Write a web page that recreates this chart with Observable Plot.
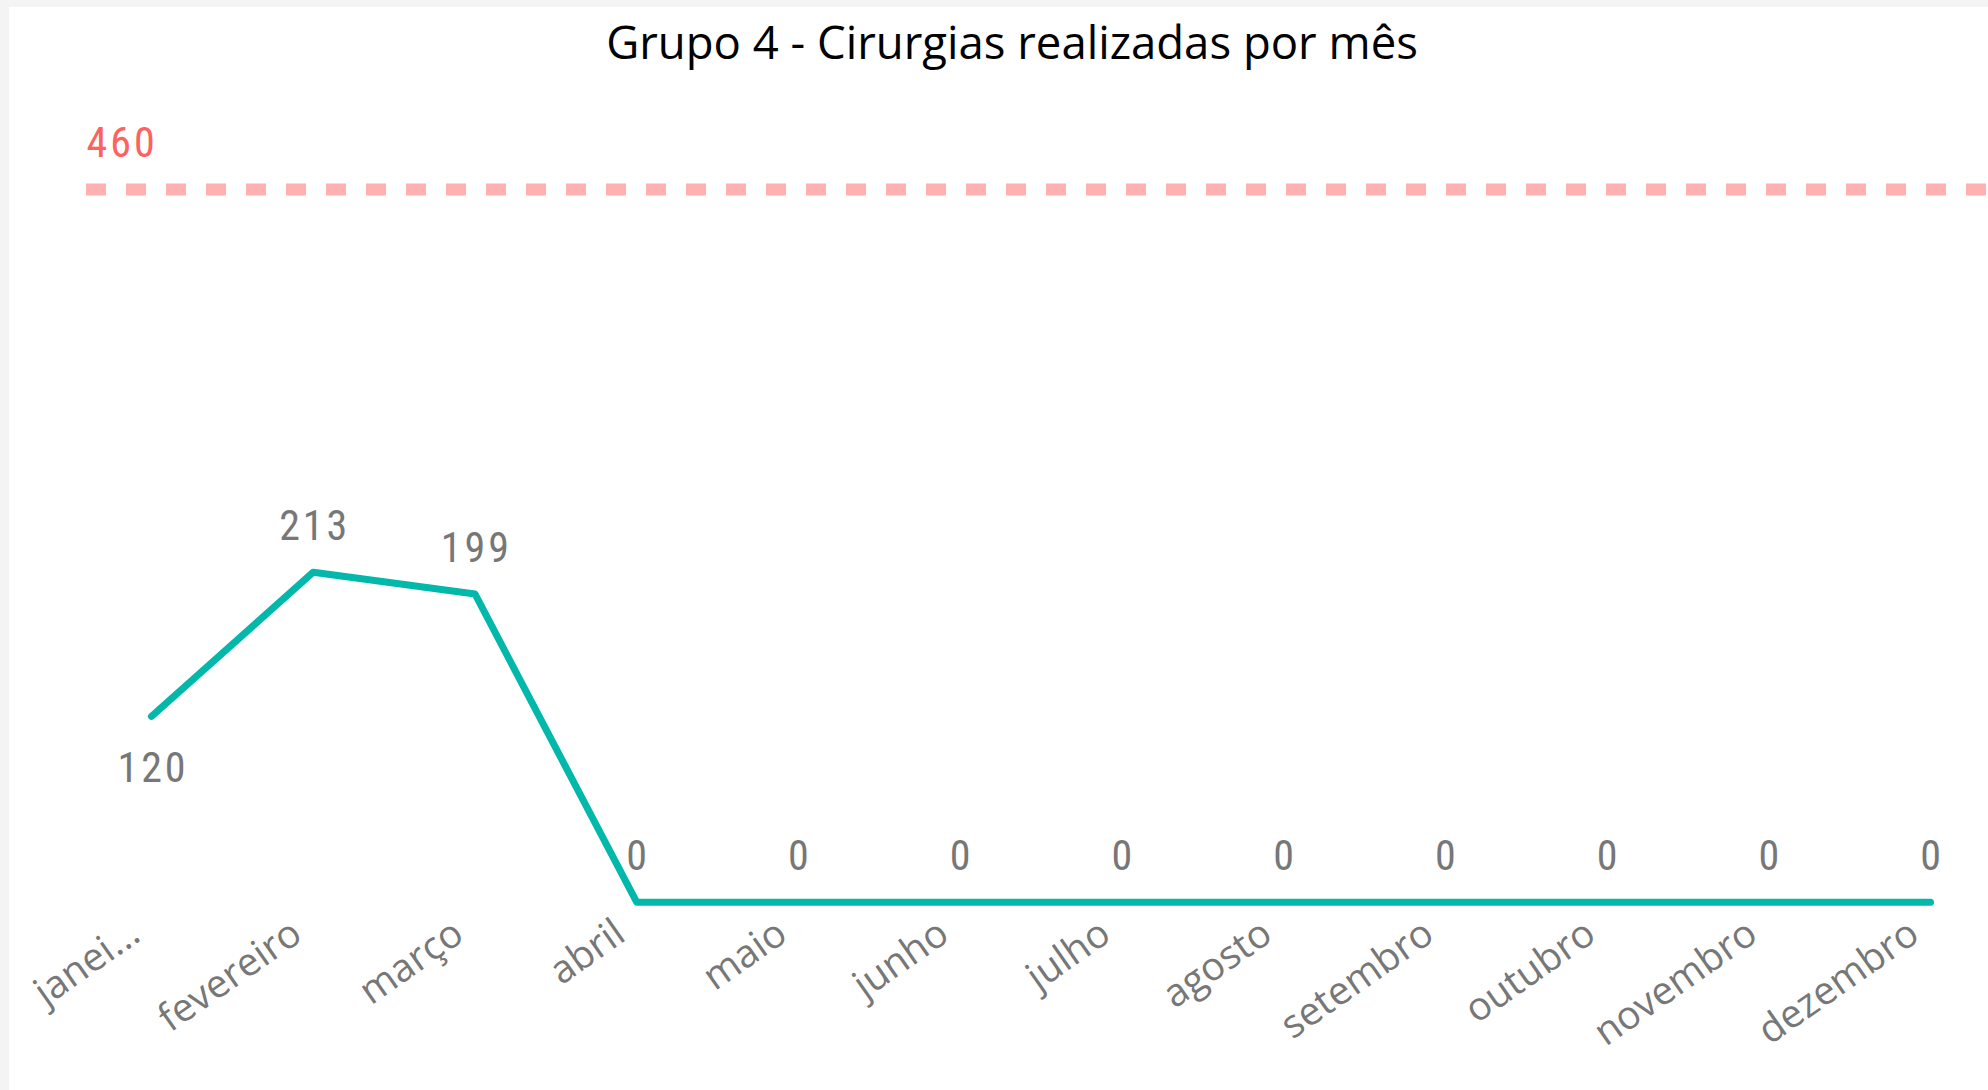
<!DOCTYPE html>
<html><head><meta charset="utf-8">
<script src="https://cdn.jsdelivr.net/npm/d3@7"></script>
<script src="https://cdn.jsdelivr.net/npm/@observablehq/plot@0.6"></script>
<style>
html,body{margin:0;padding:0;background:#f4f4f4;width:1988px;height:1090px;overflow:hidden;}
#card{position:absolute;left:9px;top:7px;right:0;bottom:0;background:#fff;}
#title{position:absolute;left:18px;top:19px;width:1988px;text-align:center;font-family:"Open Sans",sans-serif;font-size:45.5px;line-height:1;color:#000;white-space:nowrap;}
#chart{position:absolute;left:0;top:80px;}
.numlabel text{letter-spacing:3px;}
</style></head><body>
<div id="card"></div>
<div id="title">Grupo 4 - Cirurgias realizadas por mês</div>
<div id="chart"></div>
<script>
const months = ["janeiro","fevereiro","março","abril","maio","junho","julho","agosto","setembro","outubro","novembro","dezembro"];
const tickLabels = ["janei...","fevereiro","março","abril","maio","junho","julho","agosto","setembro","outubro","novembro","dezembro"];
const cirurgias = [120,213,199,0,0,0,0,0,0,0,0,0];
const meta = [460];
const labelsBelow = ["janeiro"];

const data = months.map((m, i) => ({mes: m, valor: cirurgias[i]}));
const condensed = '"Liberation Sans Narrow","Roboto Condensed","DejaVu Sans Condensed",Roboto,sans-serif';

const chart = Plot.plot({
  width: 1988,
  height: 1010,
  marginLeft: 86,
  marginRight: 0,
  marginTop: 109.1,
  marginBottom: 188.3,
  style: {background: "transparent", overflow: "visible"},
  x: {type: "point", domain: months, range: [151, 1930], padding: 0, round: false},
  y: {domain: [0, 460], axis: null},
  marks: [
    Plot.ruleY(meta, {stroke: "#ffb0b0", strokeWidth: 12, strokeDasharray: "20,20"}),
    Plot.text(meta, {y: d => d, frameAnchor: "left", text: d => String(d), textAnchor: "start", lineAnchor: "bottom", dy: -33, fill: "#fd625e", fontSize: 42, fontFamily: condensed, className: "numlabel"}),
    Plot.line(data, {x: "mes", y: "valor", stroke: "#01b8aa", strokeWidth: 7, strokeLinecap: "round", strokeLinejoin: "round"}),
    Plot.text(data.filter(d => !labelsBelow.includes(d.mes)), {x: "mes", y: "valor", text: d => String(d.valor), lineAnchor: "bottom", dy: -32, dx: 1.5, fill: "#777777", fontSize: 42, fontFamily: condensed, className: "numlabel"}),
    Plot.text(data.filter(d => labelsBelow.includes(d.mes)), {x: "mes", y: "valor", text: d => String(d.valor), lineAnchor: "bottom", dy: 66, dx: 1.5, fill: "#777777", fontSize: 42, fontFamily: condensed, className: "numlabel"}),
    Plot.axisX({tickSize: 0, tickPadding: 37, tickRotate: -35, textAnchor: "end", lineAnchor: "bottom", dx: -9,
      tickFormat: d => tickLabels[months.indexOf(d)], fontSize: 39, fill: "#777777", fontFamily: '"Open Sans",sans-serif', label: null})
  ]
});
document.getElementById("chart").appendChild(chart);
</script>
</body></html>
